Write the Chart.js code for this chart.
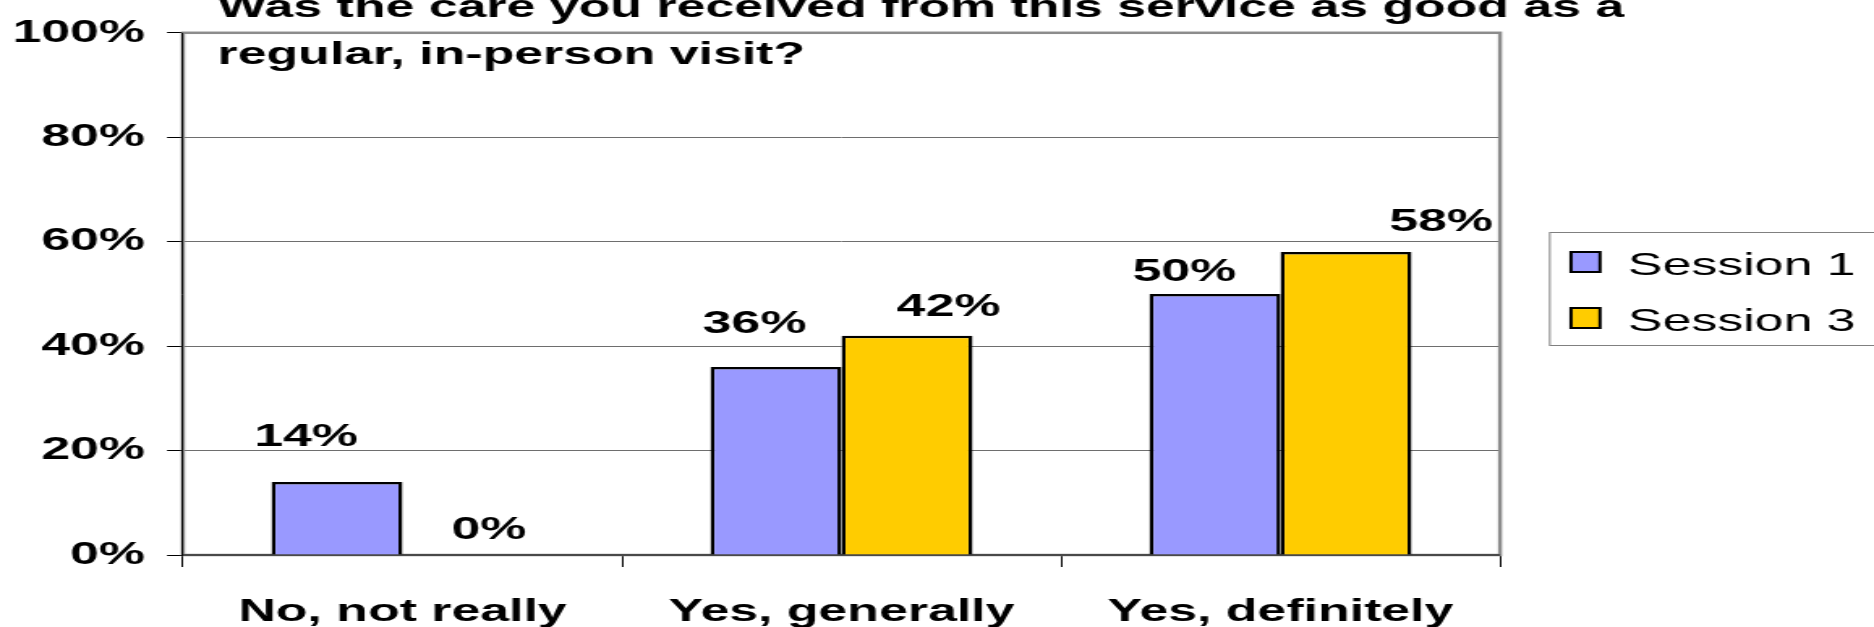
<!DOCTYPE html>
<html>
<head>
<meta charset="utf-8">
<title>Was the care you received from this service as good as a regular, in-person visit?</title>
<script src="https://cdn.jsdelivr.net/npm/chart.js@4.4.0/dist/chart.umd.min.js"></script>
<style>
  html, body { margin: 0; padding: 0; background: #fff; overflow: hidden; }
  #wrap { height: 627px; transform-origin: 0 0; }
</style>
</head>
<body>
<div id="wrap"><canvas id="chart"></canvas></div>
<script>
// chart data
const categories = ['No, not really', 'Yes, generally', 'Yes, definitely'];
const seriesNames = ['Session 1', 'Session 3'];
const session1 = [14, 36, 50];
const session3 = [0, 42, 58];
const yTicks = [0, 20, 40, 60, 80, 100];
const titleLines = [
  'Was the care you received from this service as good as a',
  'regular, in-person visit?'
];

// look
const FONT = "'Liberation Sans', Arial, sans-serif";
const FONT_SIZE = 32;
const colors = ['#9999ff', '#ffcc00'];
// the original slide stretches the whole chart sideways
const PAGE_W = 1874;
const INNER_W = 1157;
const SX = PAGE_W / INNER_W;
const ix = (px) => px / SX; // page x -> canvas x
// value labels were nudged by hand in the original (page px)
const labelShiftX = [[-31, -21.5, -30.5], [21, 41.5, 95]];
const labelGapY = [[36, 34, 13], [16.5, 20, 21]];

const wrap = document.getElementById('wrap');
const canvas = document.getElementById('chart');
wrap.style.width = INNER_W + 'px';
wrap.style.transform = 'scaleX(' + SX + ')';
canvas.width = INNER_W;
canvas.height = 627;

// plot frame: grey box with black axis lines
const framePlugin = {
  id: 'frame',
  beforeDatasetsDraw(chart) {
    const { ctx, chartArea: a } = chart;
    ctx.save();
    ctx.strokeStyle = '#8c8c8c';
    ctx.lineWidth = 2.5;
    ctx.strokeRect(a.left, a.top, a.right - a.left, a.bottom - a.top);
    ctx.strokeStyle = '#000';
    ctx.lineWidth = 1;
    ctx.beginPath();
    ctx.moveTo(a.left - 0.5, a.top);
    ctx.lineTo(a.left - 0.5, a.bottom + 1);
    ctx.stroke();
    ctx.strokeStyle = '#333';
    ctx.lineWidth = 1.5;
    ctx.beginPath();
    ctx.moveTo(a.left, a.bottom);
    ctx.lineTo(a.right, a.bottom);
    ctx.stroke();
    ctx.restore();
  }
};

// value labels above the bars
const valueLabelPlugin = {
  id: 'valueLabels',
  afterDatasetsDraw(chart) {
    const ctx = chart.ctx;
    ctx.save();
    ctx.font = 'bold ' + FONT_SIZE + 'px ' + FONT;
    ctx.fillStyle = '#000';
    ctx.textAlign = 'center';
    ctx.textBaseline = 'alphabetic';
    chart.data.datasets.forEach((ds, i) => {
      const meta = chart.getDatasetMeta(i);
      meta.data.forEach((bar, j) => {
        ctx.fillText(ds.data[j] + '%', bar.x + ix(labelShiftX[i][j]), bar.y - labelGapY[i][j]);
      });
    });
    ctx.restore();
  }
};

// title inside the plot and boxed legend on the right
const decorPlugin = {
  id: 'decor',
  afterDraw(chart) {
    const ctx = chart.ctx;
    ctx.save();
    ctx.fillStyle = '#000';
    ctx.textAlign = 'left';
    ctx.textBaseline = 'alphabetic';
    ctx.font = 'bold ' + FONT_SIZE + 'px ' + FONT;
    ctx.fillText(titleLines[0], ix(217.5), 17);
    ctx.fillText(titleLines[1], ix(217.5), 64);

    // legend box
    ctx.strokeStyle = '#808080';
    ctx.lineWidth = 1;
    ctx.strokeRect(ix(1549) + 0.5, 232.5, 300, 113);
    ctx.font = FONT_SIZE + 'px ' + FONT;
    chart.data.datasets.forEach((ds, i) => {
      const top = 252 + i * 56;
      ctx.fillStyle = ds.backgroundColor;
      ctx.fillRect(ix(1571), top, ix(29), 20);
      ctx.strokeStyle = '#000';
      ctx.lineWidth = 2;
      ctx.strokeRect(ix(1571), top, ix(29), 20);
      ctx.fillStyle = '#000';
      ctx.fillText(ds.label, ix(1628), top + 23);
    });
    ctx.restore();
  }
};

function makeDataset(label, values, color) {
  return {
    label: label,
    data: values,
    backgroundColor: color,
    borderColor: '#000',
    borderWidth: 2.5,
    categoryPercentage: 0.597,
    barPercentage: 1.0
  };
}

new Chart(canvas, {
  type: 'bar',
  data: {
    labels: categories,
    datasets: [
      makeDataset(seriesNames[0], session1, colors[0]),
      makeDataset(seriesNames[1], session3, colors[1])
    ]
  },
  options: {
    responsive: false,
    animation: false,
    devicePixelRatio: 1,
    layout: { padding: { top: 26, right: INNER_W - ix(1500), left: 0, bottom: 0 } },
    plugins: {
      legend: { display: false },
      title: { display: false },
      tooltip: { enabled: false }
    },
    scales: {
      x: {
        grid: { display: true, drawOnChartArea: false, offset: true, tickLength: 12, tickColor: '#000', tickWidth: 1 },
        border: { display: true, color: '#000', width: 1 },
        ticks: {
          color: '#000',
          font: { family: FONT, size: FONT_SIZE, weight: 'bold' },
          padding: 26,
          maxRotation: 0,
          autoSkip: false
        },
        afterFit(scale) { scale.height = 72; }
      },
      y: {
        min: 0,
        max: 100,
        afterBuildTicks(scale) { scale.ticks = yTicks.map(v => ({ value: v })); },
        grid: { color: '#6e6e6e', lineWidth: 1, tickLength: ix(16), tickColor: '#000' },
        border: { display: true, color: '#000', width: 1 },
        ticks: {
          color: '#000',
          font: { family: FONT, size: FONT_SIZE, weight: 'bold' },
          padding: ix(183) - ix(16) - ix(145),
          callback: v => v + '%'
        },
        afterFit(scale) { scale.width = ix(183); }
      }
    }
  },
  plugins: [framePlugin, valueLabelPlugin, decorPlugin]
});
</script>
</body>
</html>
